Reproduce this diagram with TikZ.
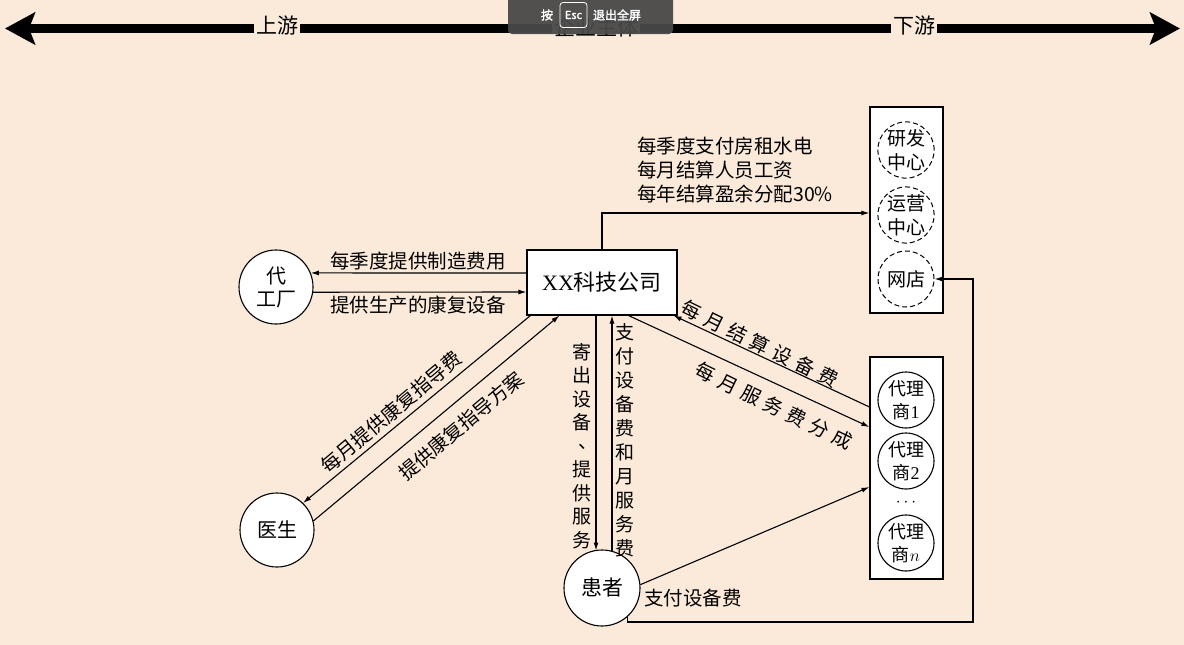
\documentclass[tikz,border=0pt]{standalone}
\usepackage{fontspec}
\setmainfont{Liberation Serif}
\newfontfamily\cjk{Noto Sans CJK SC}
\newfontfamily\cjkb[FakeBold=2]{Noto Sans CJK SC}
\usetikzlibrary{arrows.meta,calc}
\definecolor{bgc}{RGB}{251,234,218}
\definecolor{ovl}{RGB}{72,72,72}
\begin{document}
\begin{tikzpicture}[x=1pt,y=-1pt,
  arr/.style={line width=1.1pt,-{Latex[length=8pt,width=5pt]}},
  circ/.style={circle,draw,line width=1.1pt,fill=white,minimum size=74pt,inner sep=0pt,align=center,font=\cjk\fontsize{20}{23}\selectfont},
  agc/.style={circle,draw,line width=1.1pt,fill=white,minimum size=56pt,inner sep=0pt,align=center,font=\cjk\fontsize{18}{23}\selectfont},
  dcirc/.style={circle,draw,dash pattern=on 5pt off 3pt,line width=1pt,fill=white,minimum size=56pt,inner sep=0pt,align=center,font=\cjk\fontsize{19}{24}\selectfont},
  boxc/.style={draw,fill=white,line width=1.1pt,inner sep=0pt},
  lab/.style={font=\cjk\fontsize{19.5}{24}\selectfont,inner sep=0pt},
  vlab/.style={align=center,inner sep=0pt},
  toplab/.style={fill=bgc,inner sep=2pt,font=\cjk\fontsize{21}{22}\selectfont},
  ovtext/.style={text=white,inner sep=0pt,font=\cjkb\fontsize{12}{12}\selectfont}]
\fill[bgc] (0,0) rectangle (1184,645);
\useasboundingbox (0,0) rectangle (1184,645);

% top axis
\draw[line width=9pt,{Stealth[length=30pt,width=32pt,inset=6pt]}-{Stealth[length=30pt,width=32pt,inset=6pt]}] (5,28.5) -- (1180,28.5);
\node[toplab] (up) at (277,26) {上游};
\node[toplab] (mid) at (596,27) {企业主体};
\node[toplab] (down) at (914,26) {下游};

% full-screen overlay
\fill[ovl,opacity=0.95,rounded corners=4pt] (508,-6) rectangle (673,34);
\node[ovtext] (an) at (547,15) {按};
\node[draw=white,line width=0.8pt,rounded corners=3pt,minimum width=27pt,minimum height=25pt,inner sep=0pt,text=white,font=\cjkb\fontsize{11}{11}\selectfont] (esc) at (573.5,15) {Esc};
\node[ovtext] (exit) at (617,15) {退出全屏};

% nodes
\node[circ] (fac) at (276,287) {代\\工厂};
\node[boxc,minimum width=150pt,minimum height=65pt,font=\fontsize{22}{24}\selectfont] (co) at (602,282.5) {XX{\cjk 科技公司}};
\node[circ] (doc) at (277,530) {医生};
\node[circ,minimum size=76pt,font=\cjk\fontsize{21}{23}\selectfont] (pat) at (602,588) {患者};

\node[boxc,minimum width=73pt,minimum height=206pt] (rb1) at (906.5,210) {};
\node[dcirc] (rd) at (906,150) {研发\\中心};
\node[dcirc] (op) at (906,215) {运营\\中心};
\node[dcirc] (sh) at (906,279) {网店};

\node[boxc,minimum width=73pt,minimum height=222pt] (rb2) at (906.5,468) {};
\node[agc] (a1) at (906,400) {代理\\商{\rmfamily 1}};
\node[agc] (a2) at (906,461) {代理\\商{\rmfamily 2}};
\node[inner sep=0pt,font=\fontsize{16}{16}\selectfont] (dots) at (906,503) {$\cdots$};
\node[agc] (a3) at (906,543) {代理\\商$n$};

% factory
\draw[arr] ($(co.west)+(0,-9.5)$) -- (fac.22);
\draw[arr] (fac.-8) -- ($(co.west)+(0,9.5)$);
\node[lab] (l1) at (418,261) {每季度提供制造费用};
\node[lab] (l2) at (418,305) {提供生产的康复设备};

% to R&D box
\draw[arr] (co.north) |- ($(rb1.west)+(0,3)$);
\node[lab,anchor=west,align=left] (l3) at (637,170) {每季度支付房租水电\\每月结算人员工资\\每年结算盈余分配30\%};

% doctor
\draw[arr] ($(co.south west)+(4,0)$) -- (doc.46);
\draw[arr] (doc.14) -- ($(co.south west)+(33,0)$);
\node[lab,rotate=40] (l4) at (391,412) {每月提供康复指导费};
\node[lab,rotate=40] (l5) at (461,426) {提供康复指导方案};

% patient vertical
\draw[arr] ($(co.south)+(-6,0)$) -- ($(pat.center)+(-6,-37.5)$);
\draw[arr] ($(pat.center)+(10,-36.7)$) -- ($(co.south)+(10,0)$);
\node[vlab,font=\cjk\fontsize{19}{23.5}\selectfont] (l6) at (582,446) {寄\\出\\设\\备\\\makebox[19pt][l]{\hspace{6pt}\raisebox{5pt}{、}}\\提\\供\\服\\务};
\node[vlab,font=\cjk\fontsize{19}{24}\selectfont] (l7) at (625,440) {支\\付\\设\\备\\费\\和\\月\\服\\务\\费};

% agents
\draw[arr] ($(rb2.west)+(0,-61)$) -- ($(co.south east)+(-4,0)$);
\draw[arr] ($(co.south east)+(-49,0)$) -- ($(rb2.west)+(0,-41)$);
\node[lab,rotate=-26] (l8) at (760,344) {每\hspace{6pt}月\hspace{6pt}结\hspace{6pt}算\hspace{6pt}设\hspace{6pt}备\hspace{6pt}费};
\node[lab,rotate=-26] (l9) at (774,406) {每\hspace{6pt}月\hspace{6pt}服\hspace{6pt}务\hspace{6pt}费\hspace{6pt}分\hspace{6pt}成};
\draw[arr] (pat.5) -- ($(rb2.west)+(0,19)$);

% patient to online shop
\coordinate (c1) at (973,622);
\draw[arr] (pat.-48) |- (c1) |- (sh.east);
\node[lab] (l10) at (693,598) {支付设备费};
\end{tikzpicture}
\end{document}
